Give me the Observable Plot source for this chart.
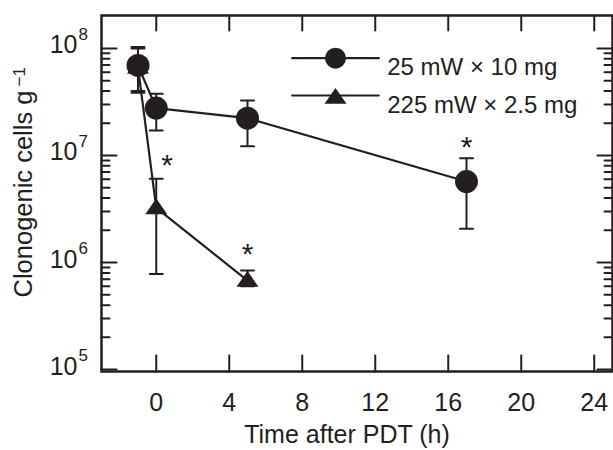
<!DOCTYPE html>
<html><head><meta charset="utf-8">
<script src="https://cdn.jsdelivr.net/npm/d3@7"></script>
<script src="https://cdn.jsdelivr.net/npm/@observablehq/plot@0.6"></script>
<style>body{margin:0;background:#fff}</style>
</head><body><div id="chart"></div>
<script>
// ---- data ----
const circleLabel = "25 mW × 10 mg";
const triangleLabel = "225 mW × 2.5 mg";
const circleTimes = [-1, 0, 5, 17];
const circleMean  = [6.93e7, 2.77e7, 2.23e7, 5.71e6];
const circleHigh  = [1.03e8, 3.78e7, 3.27e7, 9.44e6];
const circleLow   = [3.86e7, 1.71e7, 1.22e7, 2.07e6];
const triangleTimes = [-1, 0, 5];
const triangleMean  = [6.64e7, 3.24e6, 6.79e5];
const triangleHigh  = [1.0e8, 6.05e6, 8.42e5];
const triangleLow   = [4.0e7, 7.83e5, 6.0e5];
const starTimes  = [0.6, 5, 17];
const starValues = [9.55e6, 1.41e6, 1.40e7];
const xTicks = [0, 4, 8, 12, 16, 20, 24];
const yMajor = [1e5, 1e6, 1e7, 1e8];
const yExponents = ["5", "6", "7", "8"];
const yMinorMultipliers = [2, 3, 4, 5, 6, 7, 8, 9];
const xLabel = "Time after PDT (h)";
const yLabel = "Clonogenic cells g";
const yLabelExp = "\u22121";

// ---- derived tables ----
const circles = circleTimes.map((t, i) => ({t, v: circleMean[i], hi: circleHigh[i], lo: circleLow[i]}));
const triangles = triangleTimes.map((t, i) => ({t, v: triangleMean[i], hi: triangleHigh[i], lo: triangleLow[i]}));
const allPts = circles.concat(triangles);
const caps = allPts.flatMap(d => [{t: d.t, y: d.hi}, {t: d.t, y: d.lo}]);
const stars = starTimes.map((t, i) => ({t, v: starValues[i]}));
const yMinor = yMajor.slice(0, 3).flatMap(p => yMinorMultipliers.map(m => m * p));
const yLabels = yMajor.map((v, i) => ({v, e: yExponents[i]}));

const ink = "#231f20";
const font = "'Liberation Sans', Arial, Helvetica, sans-serif";
const lineShape = {draw(ctx, l) { ctx.moveTo(0, 0); ctx.lineTo(0, -l); }};
const flatTriangle = {draw(ctx, size) {
  const r = Math.sqrt(size / Math.PI);
  const w = 2.1 * r, h = 1.5 * r;
  ctx.moveTo(0, -0.6 * h); ctx.lineTo(w / 2, 0.4 * h); ctx.lineTo(-w / 2, 0.4 * h); ctx.closePath();
}};

const tickV = (data, anchor, rotate, length, channel) =>
  Plot.vector(data, {[channel]: d => d, frameAnchor: anchor, rotate, length, anchor: "start",
    shape: lineShape, stroke: ink, strokeWidth: 2, fill: "none"});

const chart = Plot.plot({
  width: 613, height: 450,
  marginLeft: 101, marginRight: 1, marginTop: 15, marginBottom: 79,
  style: {fontFamily: font, color: ink, background: "#fff"},
  x: {domain: [-3, 25], axis: null},
  y: {type: "log", domain: [9.6e4, 2.03e8], axis: null},
  marks: [
    // ticks (inward)
    tickV(yMajor, "left", 90, 15, "y"),
    tickV(yMinor, "left", 90, 8, "y"),
    tickV(yMajor, "right", -90, 15, "y"),
    tickV(yMinor, "right", -90, 8, "y"),
    tickV(xTicks, "bottom", 0, 16, "x"),
    tickV(xTicks, "top", 180, 15, "x"),
    // tick labels
    Plot.text(xTicks, {x: d => d, frameAnchor: "bottom", dy: 39, fontSize: 25, fill: ink}),
    Plot.text(yLabels, {y: "v", text: () => "10", frameAnchor: "left", textAnchor: "end", dx: -24, dy: -3, fontSize: 25, fill: ink}),
    Plot.text(yLabels, {y: "v", text: "e", frameAnchor: "left", textAnchor: "start", dx: -23, dy: -14, fontSize: 17, fill: ink}),
    // axis titles
    Plot.text([xLabel], {frameAnchor: "bottom", dx: -10, dy: 71, fontSize: 25, fill: ink}),
    Plot.text([yLabel], {frameAnchor: "bottom-left", rotate: -90, textAnchor: "start", dx: -70, dy: -74, fontSize: 25.5, fill: ink}),
    Plot.text([yLabelExp], {frameAnchor: "bottom-left", rotate: -90, textAnchor: "start", dx: -77, dy: -285, fontSize: 17, fill: ink}),
    // data
    Plot.line(circles, {x: "t", y: "v", stroke: ink, strokeWidth: 2.2}),
    Plot.line(triangles, {x: "t", y: "v", stroke: ink, strokeWidth: 2.2}),
    Plot.ruleX(allPts, {x: "t", y1: "lo", y2: "hi", stroke: ink, strokeWidth: 2}),
    Plot.vector(caps, {x: "t", y: "y", rotate: 90, length: 13, anchor: "middle", shape: lineShape, stroke: ink, strokeWidth: 2, fill: "none"}),
    Plot.dot(triangles, {x: "t", y: "v", symbol: flatTriangle, r: 10.5, fill: ink}),
    Plot.dot(circles, {x: "t", y: "v", r: 11.5, fill: ink}),
    Plot.text(stars, {x: "t", y: "v", text: () => "*", fontSize: 30, dy: 8, fill: ink}),
    // legend
    Plot.vector([0], {frameAnchor: "top-left", dx: 190.7, dy: 42.7, rotate: 90, length: 86.6, anchor: "start", shape: lineShape, stroke: ink, strokeWidth: 2.2, fill: "none"}),
    Plot.vector([0], {frameAnchor: "top-left", dx: 190.7, dy: 80, rotate: 90, length: 86.6, anchor: "start", shape: lineShape, stroke: ink, strokeWidth: 2.2, fill: "none"}),
    Plot.dot([0], {frameAnchor: "top-left", dx: 234, dy: 42.7, r: 10.5, fill: ink}),
    Plot.dot([0], {frameAnchor: "top-left", dx: 234, dy: 82, r: 10.5, symbol: flatTriangle, fill: ink}),
    Plot.text([circleLabel], {frameAnchor: "top-left", dx: 285.7, dy: 42, textAnchor: "start", fontSize: 24, fill: ink}),
    Plot.text([triangleLabel], {frameAnchor: "top-left", dx: 285.7, dy: 80, textAnchor: "start", fontSize: 24, fill: ink}),
    Plot.frame({stroke: ink, strokeWidth: 2.5})
  ]
});
document.getElementById("chart").appendChild(chart);
</script>
</body></html>
